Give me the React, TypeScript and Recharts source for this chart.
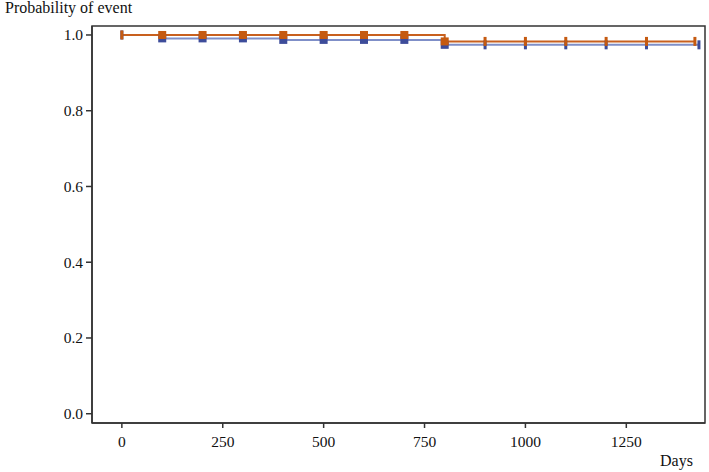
import { LineChart, Line, XAxis, YAxis, ReferenceArea } from "recharts";

const orangeDays = [0, 100, 200, 300, 400, 500, 600, 700, 800, 900, 1000, 1100, 1200, 1300, 1420];
const orangeProb = [1, 1, 1, 1, 1, 1, 1, 1, 0.983, 0.983, 0.983, 0.983, 0.983, 0.983, 0.983];

const blueDays = [0, 100, 200, 300, 400, 500, 600, 700, 800, 900, 1000, 1100, 1200, 1300, 1430];
const blueProb = [1, 0.991, 0.991, 0.991, 0.987, 0.987, 0.987, 0.987, 0.974, 0.974, 0.974, 0.974, 0.974, 0.974, 0.974];

const xTicks = [0, 250, 500, 750, 1000, 1250];
const yTicks = [0, 0.2, 0.4, 0.6, 0.8, 1.0];

const X_DOMAIN: [number, number] = [-74, 1445];
const Y_DOMAIN: [number, number] = [-0.0245, 1.0237];

const orangeData = orangeDays.map((d, i) => ({ day: d, p: orangeProb[i] }));
const blueData = blueDays.map((d, i) => ({ day: d, p: blueProb[i] }));

const AXIS = "#333";
const FONT = "'Liberation Serif', 'Times New Roman', serif";

// squares at the yearly-ish marks, thin censor ticks elsewhere
const makeDot = (color: string, last: number) => (props: any) => {
  const { cx, cy, payload, index } = props;
  if (cx == null || cy == null) return <g key={index} />;
  if (payload.day > 800 || payload.day === 0 || payload.day === last) {
    return <rect key={index} x={cx - 1.5} y={cy - 4.5} width={3} height={9} fill={color} />;
  }
  return <rect key={index} x={cx - 4} y={cy - 4} width={8} height={8} fill={color} />;
};

export default function App() {
  return (
    <div style={{ position: "absolute", left: 0, top: 0, width: 709, height: 472, background: "#fff", fontFamily: FONT }}>
      <div style={{ position: "absolute", left: 5, top: -1, fontSize: 16, color: "#111" }}>Probability of event</div>
      <div style={{ position: "absolute", left: 660, top: 452, fontSize: 16, color: "#111" }}>Days</div>
      <LineChart width={709} height={472} margin={{ top: 26, right: 4, bottom: 0, left: 0 }}>
        <XAxis
          dataKey="day"
          type="number"
          domain={X_DOMAIN}
          ticks={xTicks}
          allowDuplicatedCategory={false}
          height={49}
          stroke={AXIS}
          strokeWidth={1.5}
          tickSize={5}
          tickMargin={8}
          tick={{ fill: "#111", fontSize: 15.5, fontFamily: FONT }}
        />
        <YAxis
          type="number"
          domain={Y_DOMAIN}
          ticks={yTicks}
          width={92}
          stroke={AXIS}
          strokeWidth={1.5}
          tickSize={6}
          tickMargin={3}
          tickFormatter={(v: number) => v.toFixed(1)}
          tick={{ fill: "#111", fontSize: 15.5, fontFamily: FONT }}
        />
        <ReferenceArea
          x1={X_DOMAIN[0]}
          x2={X_DOMAIN[1]}
          y1={Y_DOMAIN[0]}
          y2={Y_DOMAIN[1]}
          fill="none"
          fillOpacity={0}
          stroke={AXIS}
          strokeWidth={1.5}
        />
        <Line
          data={blueData}
          dataKey="p"
          type="stepAfter"
          stroke="#7f8fc8"
          strokeWidth={2}
          dot={makeDot("#3d4c9a", 1430)}
          isAnimationActive={false}
        />
        <Line
          data={orangeData}
          dataKey="p"
          type="stepAfter"
          stroke="#c8601e"
          strokeWidth={2}
          dot={makeDot("#c55a11", 1420)}
          isAnimationActive={false}
        />
      </LineChart>
    </div>
  );
}
